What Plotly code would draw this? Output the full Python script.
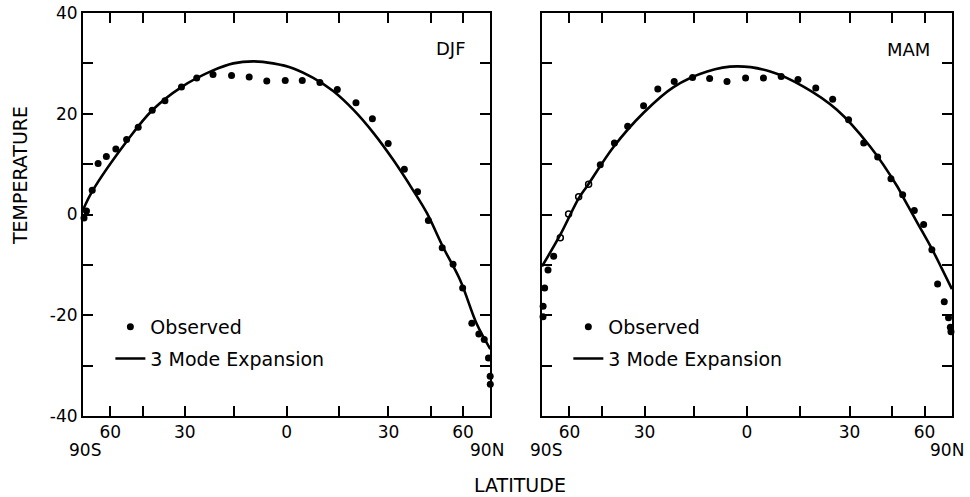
import numpy as np
import plotly.graph_objects as go

# ---------------- data (latitude in degrees, temperature in deg C) ----------------
djf_obs_lat = [-84.3, -79.4, -72.7, -67.8, -62.3, -57.0, -51.8, -46.8, -41.3, -36.7,
               -31.1, -26.2, -21.2, -15.7, -10.6, -5.6, -0.4, 4.4, 9.4, 14.4,
               19.9, 24.9, 29.9, 35.3, 40.0, 44.1, 49.8, 54.8, 59.8, 65.4,
               70.7, 76.0, 82.3, 88.0, 90.0]
djf_obs_temp = [-0.7, 0.7, 4.8, 10.1, 11.5, 13.0, 14.9, 17.3, 20.7, 22.6,
                25.3, 27.1, 27.8, 27.6, 27.3, 26.5, 26.6, 26.6, 26.2, 24.8,
                22.2, 19.0, 14.1, 9.0, 4.5, -1.2, -6.6, -9.9, -14.6, -21.6,
                -23.7, -24.8, -28.5, -32.1, -33.7]

djf_fit_lat = [-90.0, -72.7, -51.8, -41.3, -31.1, -21.2, -15.2, -9.4, -3.8, 1.9,
               7.5, 13.2, 19.1, 25.2, 31.6, 38.5, 43.5, 50.1, 58.4, 69.1, 90.0]
djf_fit_temp = [0.9, 4.6, 14.5, 20.7, 25.3, 28.6, 30.0, 30.4, 30.0, 29.0,
                27.1, 24.5, 20.8, 16.2, 10.8, 4.7, 0.3, -6.4, -13.0, -21.8, -26.7]

mam_obs_lat = [-84.3, -84.0, -80.8, -76.1, -70.6, -45.7, -40.3, -35.6, -30.3, -25.8,
               -20.8, -15.4, -10.5, -5.6, -0.4, 4.6, 9.6, 14.4, 19.6, 24.7,
               29.7, 34.7, 39.6, 44.6, 49.4, 54.7, 59.5, 64.4, 68.4, 74.2,
               79.4, 82.7, 84.3]
mam_obs_temp = [-20.3, -18.2, -14.6, -11.0, -8.3, 9.9, 14.2, 17.5, 21.6, 24.9,
                26.4, 27.2, 27.0, 26.4, 27.1, 27.1, 27.4, 26.8, 25.1, 22.9,
                18.8, 14.2, 11.4, 7.1, 3.9, 0.8, -2.0, -7.0, -13.8, -17.3,
                -20.5, -22.4, -23.3]
# points drawn as open circles in the original
mam_open_lat = [-65.6, -60.5, -55.2, -50.6]
mam_open_temp = [-4.6, 0.1, 3.5, 6.0]

mam_fit_lat = [-90.0, -65.6, -55.2, -51.3, -40.5, -30.3, -21.0, -11.2, -2.8, 6.5,
               16.0, 26.0, 36.9, 47.1, 49.4, 56.0, 64.4, 72.0, 90.0]
mam_fit_temp = [-10.3, -4.0, 3.2, 5.6, 13.5, 20.2, 25.3, 28.4, 29.4, 28.4,
                25.4, 20.8, 13.5, 5.6, 3.6, -1.5, -6.8, -10.8, -14.8]

tick_lats = [-60, -45, -30, -15, 0, 15, 30, 45, 60]
tick_text = ["60", "", "30", "", "0", "", "30", "", "60"]
temp_ticks = [-40, -30, -20, -10, 0, 10, 20, 30, 40]
temp_text = ["-40", "", "-20", "", "0", "", "20", "", "40"]
panel_labels = ["DJF", "MAM"]


def s(lat):
    return np.sin(np.radians(np.asarray(lat, dtype=float)))


FONT = "DejaVu Sans"
fig = go.Figure()

panels = [
    (djf_obs_lat, djf_obs_temp, [], [], djf_fit_lat, djf_fit_temp, "x", "y", "legend"),
    (mam_obs_lat, mam_obs_temp, mam_open_lat, mam_open_temp, mam_fit_lat, mam_fit_temp, "x2", "y2", "legend2"),
]
for i, (olat, otmp, oplat, optmp, flat, ftmp, xa, ya, lg) in enumerate(panels):
    fig.add_trace(go.Scatter(
        x=s(olat), y=otmp, mode="markers", name="Observed",
        marker=dict(color="black", size=7, symbol="circle"),
        xaxis=xa, yaxis=ya, legend=lg, legendgroup=f"obs{i}", cliponaxis=False))
    if oplat:
        fig.add_trace(go.Scatter(
            x=s(oplat), y=optmp, mode="markers", showlegend=False,
            marker=dict(color="black", size=6, symbol="circle-open", line=dict(width=1.5)),
            xaxis=xa, yaxis=ya, cliponaxis=False))
    fig.add_trace(go.Scatter(
        x=s(flat), y=ftmp, mode="lines", name="3 Mode Expansion",
        line=dict(color="black", width=2.6, shape="spline", smoothing=1.0),
        xaxis=xa, yaxis=ya, legend=lg, legendgroup=f"fit{i}", cliponaxis=False))

xcommon = dict(range=[-1, 1], showline=True, linewidth=2, linecolor="black", mirror="ticks",
               ticks="inside", ticklen=10, tickwidth=1.5, tickcolor="black",
               tickvals=list(s(tick_lats)), ticktext=tick_text, showgrid=False, zeroline=False,
               tickfont=dict(family=FONT, size=17, color="black"), automargin=False)
ycommon = dict(range=[-40, 40], domain=[0, 1], showline=True, linewidth=2, linecolor="black",
               mirror="ticks", ticks="inside", ticklen=10, tickwidth=1.5, tickcolor="black",
               tickvals=temp_ticks, ticktext=temp_text, showgrid=False, zeroline=False,
               tickfont=dict(family=FONT, size=17, color="black"), automargin=False)

legcommon = dict(xanchor="left", yanchor="top", bgcolor="rgba(0,0,0,0)", borderwidth=0,
                 font=dict(family=FONT, size=19, color="black"), tracegroupgap=4,
                 traceorder="grouped")

annotations = []
annotations.append(dict(text=panel_labels[0], x=0.891, y=32.9, xref="x", yref="y",
                        xanchor="right", yanchor="middle", showarrow=False,
                        font=dict(family=FONT, size=18, color="black")))
annotations.append(dict(text=panel_labels[1], x=0.904, y=32.7, xref="x2", yref="y2",
                        xanchor="right", yanchor="middle", showarrow=False,
                        font=dict(family=FONT, size=18, color="black")))
for xr, xv, t in (("x", -0.99, "90S"), ("x", 0.985, "90N"), ("x2", -0.979, "90S"), ("x2", 0.977, "90N")):
    annotations.append(dict(text=t, x=xv, y=-0.0844, xref=xr, yref="paper",
                            xanchor="center", yanchor="middle", showarrow=False,
                            font=dict(family=FONT, size=17, color="black")))
annotations.append(dict(text="LATITUDE", x=0.5032, y=-0.1713, xref="paper", yref="paper",
                        xanchor="center", yanchor="middle", showarrow=False,
                        font=dict(family=FONT, size=19, color="black")))
annotations.append(dict(text="TEMPERATURE", x=-0.0722, y=0.596, xref="paper", yref="paper",
                        xanchor="center", yanchor="middle", showarrow=False, textangle=-90,
                        font=dict(family=FONT, size=19, color="black")))

fig.update_layout(
    width=970, height=497,
    margin=dict(l=82.7, r=18.3, t=13.3, b=81),
    paper_bgcolor="white", plot_bgcolor="white",
    xaxis=dict(domain=[0, 0.4687], anchor="y", **xcommon),
    xaxis2=dict(domain=[0.5282, 1.0], anchor="y2", **xcommon),
    yaxis=dict(anchor="x", **ycommon),
    yaxis2=dict(anchor="x2", **ycommon),
    legend=dict(x=0.0315, y=0.268, **legcommon),
    legend2=dict(x=0.5585, y=0.268, **legcommon),
    annotations=annotations,
    showlegend=True,
)
fig.update_layout(yaxis2_showticklabels=False)

fig.write_html("out.html")
